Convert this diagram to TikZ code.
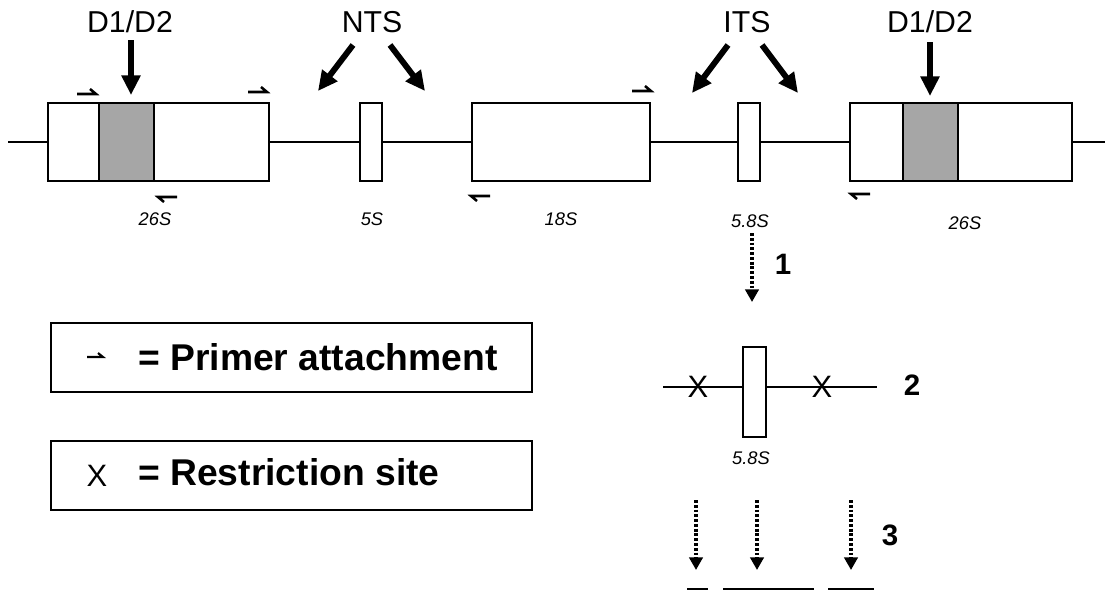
\documentclass[tikz,border=0pt]{standalone}
\usepackage{fontspec}
\setmainfont{Liberation Sans}
\usetikzlibrary{arrows.meta}
\begin{document}
\begin{tikzpicture}[x=0.025cm, y=-0.025cm,
	gene style/.style={draw, line width=1.4pt, fill=white, minimum height=1.95cm, inner sep=0pt, outer sep=0pt},
	band style/.style={gene style, fill=gray!70},
	legend style/.style={draw, line width=1.4pt, minimum width=12cm, minimum height=1.725cm, inner sep=0pt},
	backbone/.style={line width=1pt},
	primer/.style={line width=1.8pt, line join=miter},
	bigarrow/.style={line width=4.2pt, -{Triangle[length=14pt,width=13pt]}},
	dotarrow/.style={line width=2.2pt, dash pattern=on 2pt off 1.4pt, -{Triangle[length=9pt,width=9.5pt]}},
	big/.style={font=\fontsize{21.5}{25}\selectfont, anchor=base, inner sep=0pt},
	small/.style={font=\fontsize{13}{15}\selectfont\itshape, anchor=base, inner sep=0pt},
	num/.style={font=\fontsize{21}{24}\selectfont\bfseries, anchor=base, inner sep=0pt},
	xmark/.style={font=\fontsize{22}{26}\selectfont, inner sep=0pt},
	legend text/.style={font=\fontsize{26.5}{30}\selectfont\bfseries, anchor=base west, inner sep=0pt}]
	\useasboundingbox (0,0) rectangle (1119,592);
	% rDNA repeat
	\coordinate (lend) at (8,142);
	\coordinate (rend) at (1105,142);
	\node[gene style, minimum width=5.525cm] (G1) at (158.5,142) {};
	\node[band style, minimum width=1.375cm] (B1) at (126.5,142) {};
	\node[gene style, minimum width=0.55cm] (G2) at (371,142) {};
	\node[gene style, minimum width=4.45cm] (G3) at (561,142) {};
	\node[gene style, minimum width=0.55cm] (G4) at (749,142) {};
	\node[gene style, minimum width=5.55cm] (G5) at (961,142) {};
	\node[band style, minimum width=1.375cm] (B2) at (930.5,142) {};
	\draw[backbone] (lend) -- (G1.west);
	\foreach \a/\b in {1/2,2/3,3/4,4/5}
	\draw[backbone] (G\a.east) -- (G\b.west);
	\draw[backbone] (G5.east) -- (rend);
	% primers
	\foreach \x/\y in {77/94, 248/92, 632/91}
	\draw[primer] (\x,\y) -- ++(19,0) -- ++(-6,-5);
	\foreach \x/\y in {177/197, 490/196, 870/194}
	\draw[primer] (\x,\y) -- ++(-19,0) -- ++(6,5);
	% labels
	\node[small] (L1) at (155,225) {26S};
	\node[small] (L2) at (372,225) {5S};
	\node[small] (L3) at (561,225) {18S};
	\node[small] (L4) at (750,227) {5.8S};
	\node[small] (L5) at (965,229) {26S};
	\node[big] (T1) at (130,32) {D1/D2};
	\node[big] (T2) at (372,32) {NTS};
	\node[big] (T3) at (747,32) {ITS};
	\node[big] (T4) at (930,32) {D1/D2};
	\coordinate (A1) at (131,40); \coordinate (A1t) at (131,95);
	\coordinate (A2) at (353,45); \coordinate (A2t) at (318,91);
	\coordinate (A3) at (390,45); \coordinate (A3t) at (425,91);
	\coordinate (A4) at (728,45); \coordinate (A4t) at (692,93);
	\coordinate (A5) at (762,45); \coordinate (A5t) at (798,93);
	\coordinate (A6) at (930,42); \coordinate (A6t) at (930,96);
	\foreach \i in {1,...,6}
	\draw[bigarrow] (A\i) -- (A\i t);
	% step 1
	\coordinate (D1) at (752,233); \coordinate (D1t) at (752,302);
	\draw[dotarrow] (D1) -- (D1t);
	\node[num] (N1) at (783,274) {1};
	% step 2
	\coordinate (S2a) at (663,387); \coordinate (S2b) at (877,387);
	\draw[backbone] (S2a) -- (S2b);
	\node[gene style, minimum width=0.575cm, minimum height=2.25cm] (G6) at (754.5,392) {};
	\node[xmark] (X1) at (698,387) {X};
	\node[xmark] (X2) at (822,387) {X};
	\node[small] (L6) at (751,464) {5.8S};
	\node[num] (N2) at (912,395) {2};
	% step 3
	\foreach \i/\x in {1/696, 2/757, 3/851} {
	\coordinate (E\i) at (\x,500); \coordinate (E\i t) at (\x,570);
	\draw[dotarrow] (E\i) -- (E\i t);
	}
	\node[num] (N3) at (890,545) {3};
	\foreach \i/\a/\b in {1/687/708, 2/723/814, 3/828/874} {
	\coordinate (F\i) at (\a,589); \coordinate (F\i e) at (\b,589);
	\draw[backbone] (F\i) -- (F\i e);
	}
	% legend
	\node[legend style] (K1) at (291.5,357.5) {};
	\node[legend style] (K2) at (291.5,475.5) {};
	\draw[primer, line width=1.5pt] (87,357) -- ++(16,0) -- ++(-5,-4);
	\node[legend text] (K1t) at (138,370) {= Primer attachment};
	\node[font=\fontsize{22}{26}\selectfont, anchor=base, inner sep=0pt] (K2x) at (97,486) {X};
	\node[legend text] (K2t) at (138,485) {= Restriction site};
\end{tikzpicture}
\end{document}
